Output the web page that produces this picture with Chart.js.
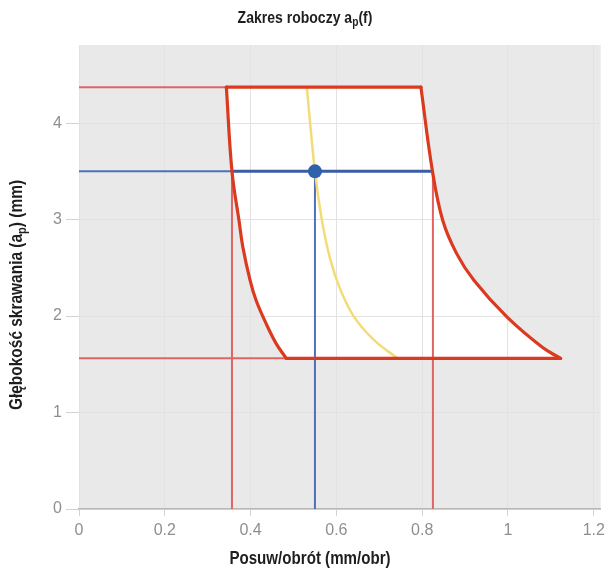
<!DOCTYPE html>
<html><head><meta charset="utf-8">
<script src="https://cdn.jsdelivr.net/npm/chart.js@4.4.1/dist/chart.umd.min.js"></script>
<style>html,body{margin:0;padding:0;background:#fff;}</style>
</head><body>
<canvas id="c" width="610" height="582"></canvas>
<script>
const FONT = "'Liberation Sans', Arial, sans-serif";

// axes
const xTicks = [0, 0.2, 0.4, 0.6, 0.8, 1, 1.2];
const yTicks = [0, 1, 2, 3, 4];
const xRange = [0, 1.216];
const yRange = [0, 4.81];

// working zone: right limit curve (top -> bottom), feed f (mm/obr) vs depth ap (mm)
const rightF  = [0.797, 0.824, 0.848, 0.880, 0.921, 0.998, 1.080, 1.1225];
const rightAp = [4.373, 3.5,   2.99,  2.65,  2.368, 1.988, 1.676, 1.562];
// left limit curve (bottom -> top)
const leftF  = [0.483, 0.460, 0.4365, 0.413, 0.399, 0.382, 0.373, 0.3566, 0.3435];
const leftAp = [1.562, 1.712, 1.919,  2.161, 2.368, 2.714, 2.99,  3.5,    4.373];

// optimum (yellow) curve
const optF  = [0.531, 0.550, 0.566, 0.585, 0.607, 0.640, 0.688, 0.7426];
const optAp = [4.373, 3.5,   3.0,   2.6,   2.3,   2.0,   1.75,  1.562];

// selected point and limits
const selF = 0.55, selAp = 3.5;
const fLow = 0.3566, fHigh = 0.825;
const apHigh = 4.373, apHighF = 0.3435, apHighF2 = 0.797;
const apLow = 1.562, apLowF = 0.483, apLowF2 = 1.1225;

const pts = (xs, ys) => xs.map((x, i) => ({x, y: ys[i]}));
const seg = (x1, y1, x2, y2) => [{x: x1, y: y1}, {x: x2, y: y2}];
const zone = pts(rightF, rightAp).concat(pts(leftF, leftAp));

const RED = '#db3a1f', RED_T = '#e06464', BLUE = '#3c5ca6', BLUE_T = '#4d70b6', YEL = '#f3dc78';

function line(data, color, width, order, extra) {
  return Object.assign({data, showLine: true, borderColor: color, borderWidth: width,
    pointRadius: 0, pointHoverRadius: 0, fill: false, tension: 0, order,
    borderCapStyle: 'round', borderJoinStyle: 'round'}, extra || {});
}

const datasets = [
  {data: pts([selF], [selAp]), showLine: false, pointRadius: 7, pointHoverRadius: 7,
   backgroundColor: '#3061ad', borderWidth: 0, order: 0},
  line(seg(apHighF, apHigh, apHighF2, apHigh), RED, 3.2, 1),
  line(pts(rightF, rightAp), RED, 3.2, 1, {tension: 0.4}),
  line(seg(apLowF2, apLow, apLowF, apLow), RED, 3.2, 1),
  line(pts(leftF, leftAp), RED, 3.2, 1, {tension: 0.4}),
  line(seg(fLow, selAp, fHigh, selAp), BLUE, 3, 2, {borderCapStyle: 'butt'}),
  line(pts(optF, optAp), YEL, 2.5, 3, {tension: 0.4}),
  line(seg(0, selAp, fLow, selAp), BLUE_T, 2, 4, {borderCapStyle: 'butt'}),
  line(seg(selF, 0, selF, selAp), BLUE_T, 2, 4, {borderCapStyle: 'butt'}),
  line(seg(0, apHigh, apHighF, apHigh), RED_T, 2, 5, {borderCapStyle: 'butt'}),
  line(seg(0, apLow, apLowF, apLow), RED_T, 2, 5, {borderCapStyle: 'butt'}),
  line(seg(fLow, 0, fLow, selAp), RED_T, 2, 5, {borderCapStyle: 'butt'}),
  line(seg(fHigh, 0, fHigh, selAp), RED_T, 2, 5, {borderCapStyle: 'butt'}),
  line(zone, 'rgba(0,0,0,0)', 0, 9, {fill: 'shape', backgroundColor: '#ffffff'})
];

const bgPlugin = {
  id: 'plotBg',
  beforeDraw(chart) {
    const {ctx, chartArea: a} = chart;
    ctx.save();
    ctx.globalCompositeOperation = 'destination-over';
    ctx.fillStyle = '#e9e9e9';
    ctx.fillRect(a.left, a.top, a.right - a.left, a.bottom - a.top);
    ctx.restore();
  }
};

function drawParts(ctx, parts, cx, cy, size, rot, sx) {
  const main = `bold ${size}px ${FONT}`, sub = `bold ${Math.round(size * 0.7)}px ${FONT}`;
  let w = 0;
  parts.forEach(p => { ctx.font = p.sub ? sub : main; p.w = ctx.measureText(p.t).width; w += p.w; });
  ctx.save();
  ctx.translate(cx, cy);
  ctx.rotate(rot);
  ctx.scale(sx, 1);
  ctx.fillStyle = '#1e1e1e';
  ctx.textBaseline = 'middle';
  ctx.textAlign = 'left';
  let x = -w / 2;
  parts.forEach(p => {
    ctx.font = p.sub ? sub : main;
    ctx.fillText(p.t, x, p.sub ? size * 0.3 : 0);
    x += p.w;
  });
  ctx.restore();
}

const titlesPlugin = {
  id: 'titles',
  afterDraw(chart) {
    const ctx = chart.ctx;
    drawParts(ctx, [{t: 'Zakres roboczy a'}, {t: 'p', sub: true}, {t: '(f)'}], 305, 18, 16.5, 0, 0.85);
    drawParts(ctx, [{t: 'Posuw/obrót (mm/obr)'}], 310, 559, 17.8, 0, 0.85);
    drawParts(ctx, [{t: 'Głębokość skrawania (a'}, {t: 'p', sub: true}, {t: ') (mm)'}], 17, 295, 18.2, -Math.PI / 2, 0.85);
  }
};

new Chart(document.getElementById('c'), {
  type: 'scatter',
  data: {datasets},
  plugins: [bgPlugin, titlesPlugin],
  options: {
    responsive: false,
    animation: false,
    events: [],
    layout: {padding: {top: 45, right: 7, bottom: 0, left: 0}},
    plugins: {
      legend: {display: false},
      tooltip: {enabled: false},
      title: {display: false},
      filler: {drawTime: 'beforeDraw'}
    },
    scales: {
      x: {
        type: 'linear', min: xRange[0], max: xRange[1],
        afterBuildTicks: s => { s.ticks = xTicks.map(v => ({value: v})); },
        afterFit: s => { s.height = 73; },
        grid: {color: '#e2e2e2', tickColor: '#d2d2d2', tickLength: 7, lineWidth: 1},
        border: {display: true, color: '#b9b9b9', width: 1.5},
        ticks: {color: '#8f8f8f', font: {family: FONT, size: 16}, padding: 5, maxRotation: 0,
                callback: v => String(v)}
      },
      y: {
        type: 'linear', min: yRange[0], max: yRange[1],
        afterBuildTicks: s => { s.ticks = yTicks.map(v => ({value: v})); },
        afterFit: s => { s.width = 79; },
        grid: {color: '#e2e2e2', tickColor: '#d2d2d2', tickLength: 13, lineWidth: 1},
        border: {display: false},
        ticks: {color: '#8f8f8f', font: {family: FONT, size: 16}, padding: 4,
                callback: v => String(v)}
      }
    }
  }
});
</script>
</body></html>
